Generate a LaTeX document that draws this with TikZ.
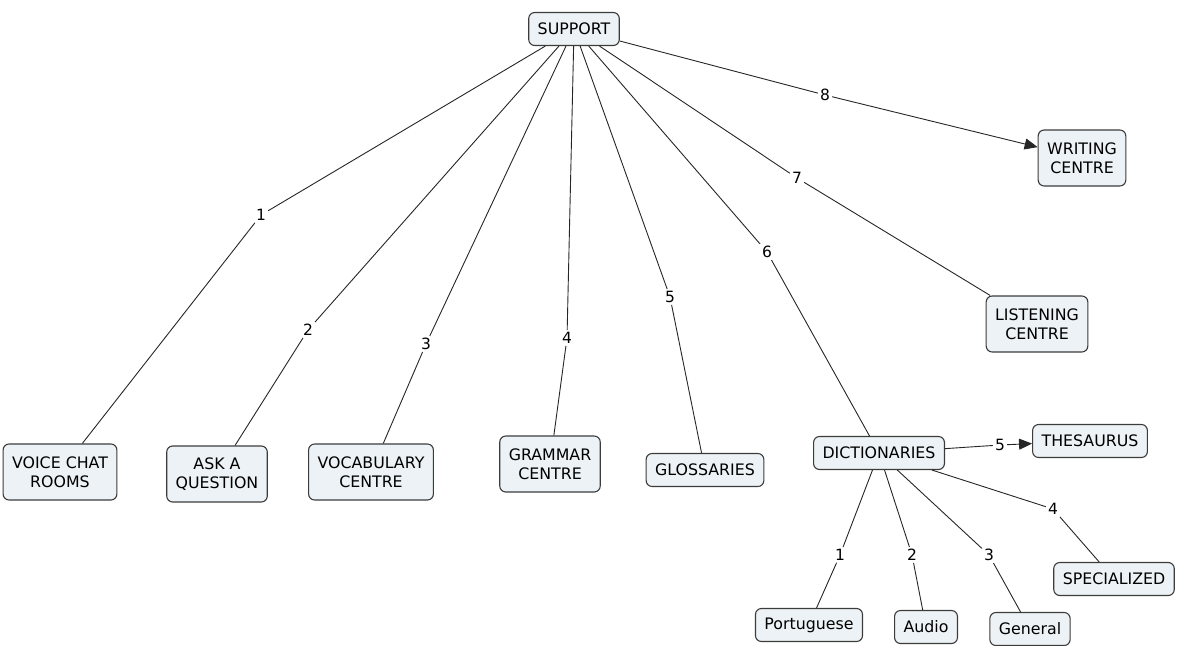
\documentclass[tikz,border=0pt]{standalone}
\usepackage{fontspec}
\setmainfont{DejaVu Sans}
\usepackage{tikz}
\usetikzlibrary{arrows.meta}
\definecolor{boxfill}{RGB}{236,242,245}
\definecolor{boxline}{RGB}{60,60,60}

\begin{document}
\begin{tikzpicture}[
	x=1pt, y=-1pt,
	concept/.style = {rectangle, rounded corners=6pt, draw=boxline, fill=boxfill, line width=1.1pt,
		font=\fontsize{15.8}{19}\selectfont, align=center, inner xsep=9pt, minimum height=33pt},
	twoline/.style = {concept, minimum height=56pt},
	lbl/.style = {fill=white, inner sep=2pt, font=\fontsize{15.5}{18}\selectfont},
	link/.style = {draw=black!85, line width=0.9pt},
	linkarrow/.style = {link, -{Triangle[length=13pt, width=11pt]}},
]
\useasboundingbox (0,0) rectangle (1182,645);

% concepts
\node[concept] (support) at (574,29) {SUPPORT};
\node[twoline] (writing) at (1082,158) {WRITING\\CENTRE};
\node[twoline] (listening) at (1037,324) {LISTENING\\CENTRE};
\node[twoline] (voice) at (60,472) {VOICE CHAT\\ROOMS};
\node[twoline] (ask) at (217,474) {ASK A\\QUESTION};
\node[twoline] (vocab) at (371,472) {VOCABULARY\\CENTRE};
\node[twoline] (grammar) at (550,464) {GRAMMAR\\CENTRE};
\node[concept] (gloss) at (705,470) {GLOSSARIES};
\node[concept] (dict) at (879,453) {DICTIONARIES};
\node[concept] (thes) at (1090,441) {THESAURUS};
\node[concept] (special) at (1114,579) {SPECIALIZED};
\node[concept] (port) at (809,625) {Portuguese};
\node[concept] (audio) at (926,627) {Audio};
\node[concept] (general) at (1030,629) {General};

% link labels
\node[lbl] (s1) at (261,215) {1};
\node[lbl] (s2) at (308,330) {2};
\node[lbl] (s3) at (426,344) {3};
\node[lbl] (s4) at (567,338) {4};
\node[lbl] (s5) at (670,297) {5};
\node[lbl] (s6) at (767,252) {6};
\node[lbl] (s7) at (797,178) {7};
\node[lbl] (s8) at (825,95) {8};
\node[lbl] (d1) at (840,555) {1};
\node[lbl] (d2) at (912,555) {2};
\node[lbl] (d3) at (989,555) {3};
\node[lbl] (d4) at (1053,509) {4};
\node[lbl] (d5) at (1000,445) {5};

\draw[link] (support) -- (s1) -- (voice);
\draw[link] (support) -- (s2) -- (ask);
\draw[link] (support) -- (s3) -- (vocab);
\draw[link] (support) -- (s4) -- (grammar);
\draw[link] (support) -- (s5) -- (gloss);
\draw[link] (support) -- (s6) -- (dict);
\draw[link] (support) -- (s7) -- (listening);
\draw[linkarrow] (support) -- (s8) -- (writing);
\draw[link] (dict) -- (d1) -- (port);
\draw[link] (dict) -- (d2) -- (audio);
\draw[link] (dict) -- (d3) -- (general);
\draw[link] (dict) -- (d4) -- (special);
\draw[linkarrow] (dict) -- (d5) -- (thes);
\end{tikzpicture}
\end{document}
